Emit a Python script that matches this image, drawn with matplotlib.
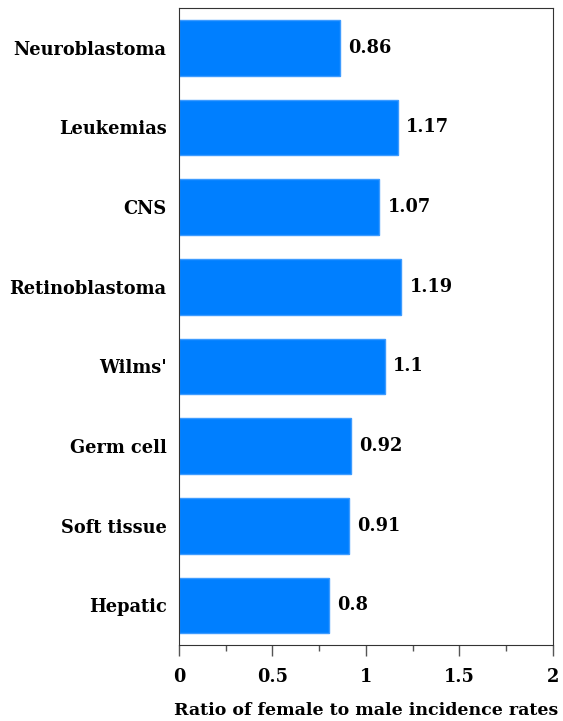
import matplotlib.pyplot as plt
from matplotlib.ticker import MultipleLocator

categories = ["Neuroblastoma", "Leukemias", "CNS", "Retinoblastoma",
              "Wilms'", "Germ cell", "Soft tissue", "Hepatic"]
ratios = [0.86, 1.17, 1.07, 1.19, 1.1, 0.92, 0.91, 0.8]
value_labels = ["0.86", "1.17", "1.07", "1.19", "1.1", "0.92", "0.91", "0.8"]
xticks = [0, 0.5, 1, 1.5, 2]
xtick_labels = ["0", "0.5", "1", "1.5", "2"]

plt.rcParams['font.family'] = ['DejaVu Serif']
plt.rcParams['font.weight'] = 'bold'

fig = plt.figure(figsize=(5.63, 7.21), dpi=100)
ax = fig.add_axes([0.318, 0.105, 0.664, 0.884])

pos = list(range(len(categories)))
ax.barh(pos, ratios, height=0.7, color="#007fff", edgecolor="#3d9bff", linewidth=1)
for p, v, s in zip(pos, ratios, value_labels):
    ax.text(v + 0.045, p, s, va="center", ha="left", fontsize=12.8, fontweight="bold")

ax.set_yticks(pos)
ax.set_yticklabels(categories, fontsize=12.8, fontweight="bold")
ax.set_ylim(7.5, -0.5)
ax.set_xlim(0, 2)
ax.set_xticks(xticks)
ax.set_xticklabels(xtick_labels, fontsize=12.8, fontweight="bold")
ax.xaxis.set_minor_locator(MultipleLocator(0.25))
ax.tick_params(axis="y", length=0, pad=9)
ax.tick_params(axis="x", which="major", length=8, width=1, color="#555555", pad=8)
ax.tick_params(axis="x", which="minor", length=4, width=1, color="#555555")
for s in ax.spines.values():
    s.set_color("#333333")
ax.set_xlabel("Ratio of female to male incidence rates", fontsize=12.5, fontweight="bold", labelpad=12)

fig.savefig("out.png", dpi=100)
